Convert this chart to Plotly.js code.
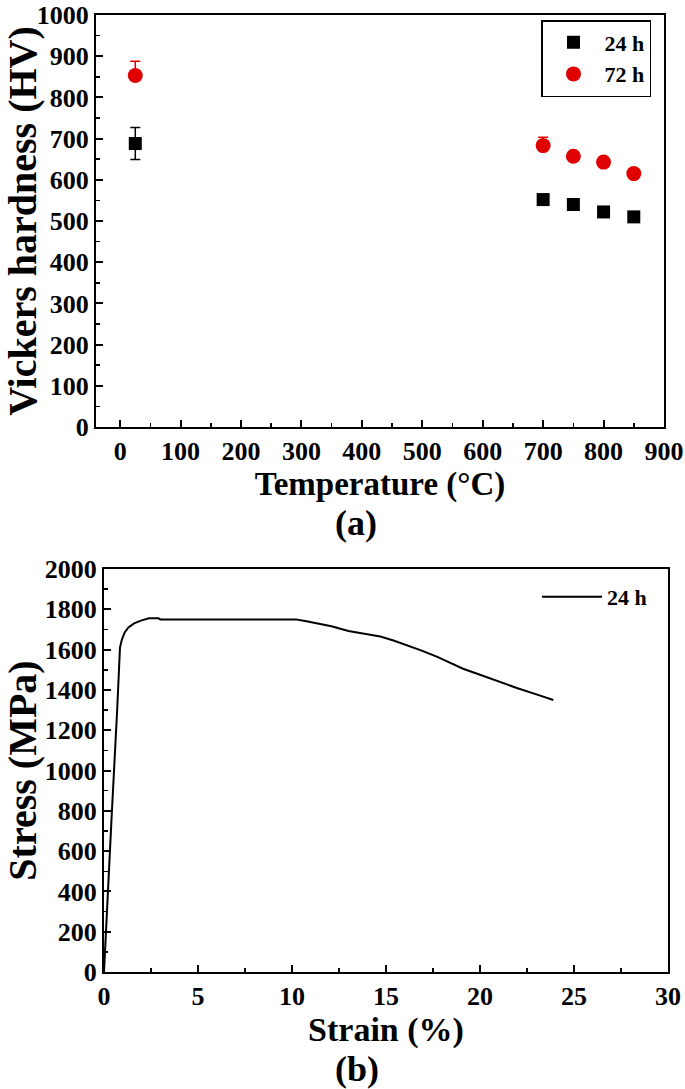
<!DOCTYPE html>
<html>
<head>
<meta charset="utf-8">
<script src="https://cdn.plot.ly/plotly-3.0.1.min.js"></script>
<style>html,body{margin:0;padding:0;background:#fff;}#chart{width:685px;height:1089px;}</style>
</head>
<body>
<div id="chart"></div>
<script>
// (a) Vickers hardness vs temperature
const tempC = [25, 700, 750, 800, 850];
const hv24 = [688, 552, 540, 522, 510];
const hv24ErrUp = [39, 8, 7, 7, 7];
const hv24ErrDown = [39, 8, 7, 7, 7];
const hv72 = [853, 683, 657, 643, 615];
const hv72ErrUp = [35, 20, 8, 8, 8];
const hv72ErrDown = [10, 8, 8, 8, 8];
// (b) stress-strain curve, 24 h
const strain = [0, 0.15, 0.4, 0.7, 0.85, 0.95, 1.1, 1.3, 1.6, 2.0, 2.4, 2.9, 3.0, 5, 8, 10.2, 10.7, 11.5, 12.1, 13.0, 13.8, 14.7, 15.4, 16.1, 16.9, 17.7, 18.4, 19.1, 20, 21, 22, 23, 23.9];
const stress = [0, 300, 760, 1300, 1610, 1650, 1685, 1710, 1730, 1745, 1755, 1755, 1750, 1750, 1750, 1750, 1742, 1728, 1716, 1692, 1678, 1665, 1645, 1622, 1595, 1565, 1535, 1505, 1475, 1440, 1408, 1378, 1350];

const F = "Liberation Serif, Times New Roman, serif";
const RED = "#e00000";

const traces = [
  {x: tempC, y: hv24, type: "scatter", mode: "markers", name: "<b>24 h</b>",
   xaxis: "x", yaxis: "y", legend: "legend",
   marker: {symbol: "square", size: 13, color: "#000"},
   error_y: {type: "data", array: hv24ErrUp, arrayminus: hv24ErrDown, symmetric: false, color: "#000", thickness: 1.5, width: 5}},
  {x: tempC, y: hv72, type: "scatter", mode: "markers", name: "<b>72 h</b>",
   xaxis: "x", yaxis: "y", legend: "legend",
   marker: {symbol: "circle", size: 15, color: RED},
   error_y: {type: "data", array: hv72ErrUp, arrayminus: hv72ErrDown, symmetric: false, color: RED, thickness: 1.5, width: 5}},
  {x: strain, y: stress, type: "scatter", mode: "lines", name: "<b>24 h</b>",
   xaxis: "x2", yaxis: "y2", legend: "legend2",
   line: {color: "#000", width: 2}}
];

const axBase = {
  showline: true, linecolor: "#000", linewidth: 2, mirror: true,
  ticks: "inside", ticklen: 7, tickwidth: 2, tickcolor: "#000",
  showgrid: false, zeroline: false,
  ticklabeloverflow: "allow",
  tickprefix: "<b>", ticksuffix: "</b>",
  tickfont: {family: F, size: 26, color: "#000", weight: 700},
  minor: {ticks: "inside", ticklen: 4, tickwidth: 1.5, tickcolor: "#000"}
};

const layout = {
  width: 685, height: 1089,
  margin: {l: 0, r: 0, t: 0, b: 0},
  paper_bgcolor: "#fff", plot_bgcolor: "#fff",
  font: {family: F, color: "#000"},
  xaxis: Object.assign({}, axBase, {
    domain: [96/685, 664/685], anchor: "y", range: [-40, 900],
    tickmode: "linear", tick0: 0, dtick: 100,
    minor: Object.assign({}, axBase.minor, {dtick: 50}),
    title: {text: "<b>Temperature (°C)</b>", font: {family: F, size: 33, color: "#000"}, standoff: 0}
  }),
  yaxis: Object.assign({}, axBase, {
    domain: [1 - 427/1089, 1 - 15/1089], anchor: "x", range: [0, 1000],
    tickmode: "linear", tick0: 0, dtick: 100,
    minor: Object.assign({}, axBase.minor, {dtick: 50}),
    title: {text: "<b>Vickers hardness (HV)</b>", font: {family: F, size: 40, color: "#000"}, standoff: 2}
  }),
  xaxis2: Object.assign({}, axBase, {
    domain: [104/685, 668/685], anchor: "y2", range: [0, 30],
    tickmode: "linear", tick0: 0, dtick: 5,
    minor: Object.assign({}, axBase.minor, {dtick: 2.5}),
    title: {text: "<b>Strain (%)</b>", font: {family: F, size: 34, color: "#000"}, standoff: 0}
  }),
  yaxis2: Object.assign({}, axBase, {
    domain: [1 - 972/1089, 1 - 569/1089], anchor: "x2", range: [0, 2000],
    tickmode: "linear", tick0: 0, dtick: 200,
    minor: Object.assign({}, axBase.minor, {dtick: 100}),
    title: {text: "<b>Stress (MPa)</b>", font: {family: F, size: 40, color: "#000"}, standoff: 2}
  }),
  legend: {x: 541/685, y: 1 - 20/1089, xanchor: "left", yanchor: "top",
    bordercolor: "#000", borderwidth: 1.5, bgcolor: "#fff",
    font: {family: F, size: 22, color: "#000"}, itemwidth: 52},
  legend2: {x: 537/685, y: 1 - 576/1089, xanchor: "left", yanchor: "top",
    borderwidth: 0, bgcolor: "rgba(0,0,0,0)",
    font: {family: F, size: 22, color: "#000"}, itemwidth: 60},
  annotations: [
    {text: "<b>(a)</b>", xref: "paper", yref: "paper", x: 356/685, y: 1 - 523/1089,
     xanchor: "center", yanchor: "middle", showarrow: false, font: {family: F, size: 36, color: "#000"}},
    {text: "<b>(b)</b>", xref: "paper", yref: "paper", x: 357/685, y: 1 - 1069/1089,
     xanchor: "center", yanchor: "middle", showarrow: false, font: {family: F, size: 36, color: "#000"}}
  ],
  showlegend: true
};

Plotly.newPlot("chart", traces, layout, {displayModeBar: false, staticPlot: true});
</script>
</body>
</html>
